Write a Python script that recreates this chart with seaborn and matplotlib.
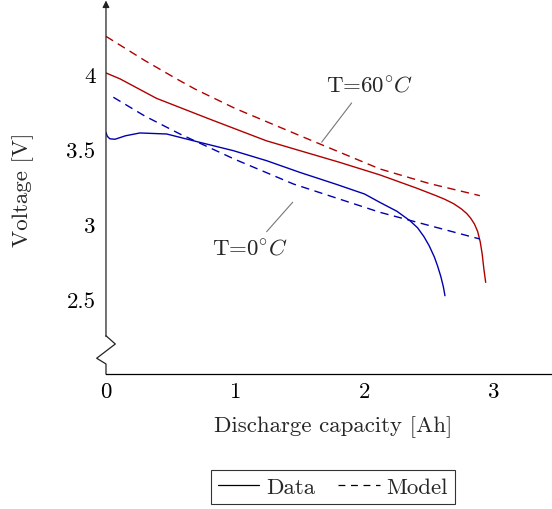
import numpy as np
import pandas as pd
import seaborn as sns
import matplotlib.pyplot as plt
from matplotlib.lines import Line2D

sns.set_theme(style="white")
plt.rcParams["font.family"] = ["cmr10", "DejaVu Serif"]
plt.rcParams["mathtext.fontset"] = "cm"
plt.rcParams["axes.unicode_minus"] = False
plt.rcParams["axes.formatter.use_mathtext"] = True

FONTE = 16.5

# Dados (capacidade [Ah], tensão [V])
data60_x = [0.0, 0.11, 0.39, 0.80, 1.24, 1.50, 1.80, 2.12, 2.40, 2.55, 2.62, 2.69, 2.75, 2.79, 2.82, 2.85, 2.875, 2.895, 2.91, 2.923, 2.937]
data60_y = [4.007, 3.967, 3.838, 3.70, 3.555, 3.489, 3.413, 3.327, 3.24, 3.19, 3.165, 3.135, 3.10, 3.07, 3.04, 3.00, 2.95, 2.88, 2.80, 2.70, 2.611]

model60_x = [0.0, 0.30, 0.547, 0.688, 1.0, 1.5, 2.119, 2.5, 2.892]
model60_y = [4.251, 4.09, 3.967, 3.90, 3.77, 3.589, 3.367, 3.27, 3.189]

data0_x = [0.0, 0.01, 0.03, 0.07, 0.15, 0.263, 0.47, 0.727, 0.985, 1.243, 1.50, 1.78, 2.0, 2.119, 2.25, 2.351, 2.41, 2.46, 2.50, 2.54, 2.565, 2.59, 2.61, 2.622]
data0_y = [3.61, 3.585, 3.568, 3.565, 3.588, 3.607, 3.60, 3.544, 3.489, 3.422, 3.344, 3.265, 3.20, 3.144, 3.085, 3.022, 2.975, 2.915, 2.855, 2.78, 2.72, 2.65, 2.58, 2.522]

model0_x = [0.057, 0.30, 0.572, 1.0, 1.449, 2.119, 2.5, 2.892]
model0_y = [3.845, 3.72, 3.60, 3.43, 3.267, 3.078, 2.99, 2.90]

x_ticks = [0, 1, 2, 3]
y_ticks = [2.5, 3, 3.5, 4]

VERMELHO = "#b00000"
AZUL = "#0000b0"

fig = plt.figure(figsize=(5.52, 5.10), dpi=100)
ax = fig.add_axes([0.192, 0.2647, 0.808, 0.7294])

series = [
    (data60_x, data60_y, VERMELHO, ""),
    (model60_x, model60_y, VERMELHO, (6, 4)),
    (data0_x, data0_y, AZUL, ""),
    (model0_x, model0_y, AZUL, (6, 4)),
]
for xs, ys, cor, traco in series:
    df = pd.DataFrame({"x": xs, "y": ys})
    linha = sns.lineplot(data=df, x="x", y="y", sort=False, estimator=None,
                         color=cor, lw=1.0, ax=ax, legend=False)
    if traco:
        linha.lines[-1].set_dashes(traco)

ax.set_xlim(0, 3.45)
ax.set_ylim(2.0, 4.48)
ax.set_xticks(x_ticks)
ax.set_xticklabels([str(v) for v in x_ticks])
ax.set_yticks(y_ticks)
ax.set_yticklabels(["2.5", "3", "3.5", "4"])

for lado in ["top", "right", "left"]:
    ax.spines[lado].set_visible(False)
ax.spines["bottom"].set_color("black")
ax.spines["bottom"].set_linewidth(0.9)

ax.tick_params(axis="both", direction="inout", length=7, width=0.8,
               color="#888888", labelsize=FONTE, labelcolor="black")
ax.tick_params(axis="y", pad=4)
ax.tick_params(axis="x", pad=2)

# eixo y com quebra (zigue-zague) e seta
quebra_x = [0, 0, -0.072, 0.072, 0]
quebra_y = [2.0, 2.067, 2.105, 2.2, 2.255]
ax.plot(quebra_x, quebra_y, color="#222222", lw=0.9, clip_on=False)
ax.annotate("", xy=(0, 4.49), xytext=(0, 2.25),
            arrowprops=dict(arrowstyle="-|>", color="#222222", lw=0.9, mutation_scale=10,
                            shrinkA=0, shrinkB=0),
            annotation_clip=False)

# anotações
ax.plot([1.668, 1.900], [3.545, 3.807], color="#777777", lw=0.8)
ax.text(2.041, 3.925, r"T=$\mathrm{60}^{\circ}C$", ha="center", va="center", fontsize=FONTE)
ax.plot([1.243, 1.444], [2.949, 3.145], color="#777777", lw=0.8)
ax.text(1.113, 2.835, r"T=$\mathrm{0}^{\circ}C$", ha="center", va="center", fontsize=FONTE)

ax.set_xlabel("Discharge capacity [Ah]", fontsize=FONTE)
ax.set_ylabel("Voltage [V]", fontsize=FONTE)
ax.xaxis.set_label_coords(0.509, -0.11)
ax.yaxis.set_label_coords(-0.161, 0.497)

handles = [Line2D([], [], color="black", lw=0.9),
           Line2D([], [], color="black", lw=0.9, dashes=(5.5, 4.5))]
leg = ax.legend(handles, ["Data", "Model"], loc="center", bbox_to_anchor=(0.509, -0.304),
                ncol=2, fontsize=FONTE, frameon=True, fancybox=False, handlelength=1.8,
                handletextpad=0.3, columnspacing=1.0, borderpad=0.3, borderaxespad=0.0)
leg.get_frame().set_edgecolor("black")
leg.get_frame().set_linewidth(0.8)

fig.savefig("out.png", dpi=100)
